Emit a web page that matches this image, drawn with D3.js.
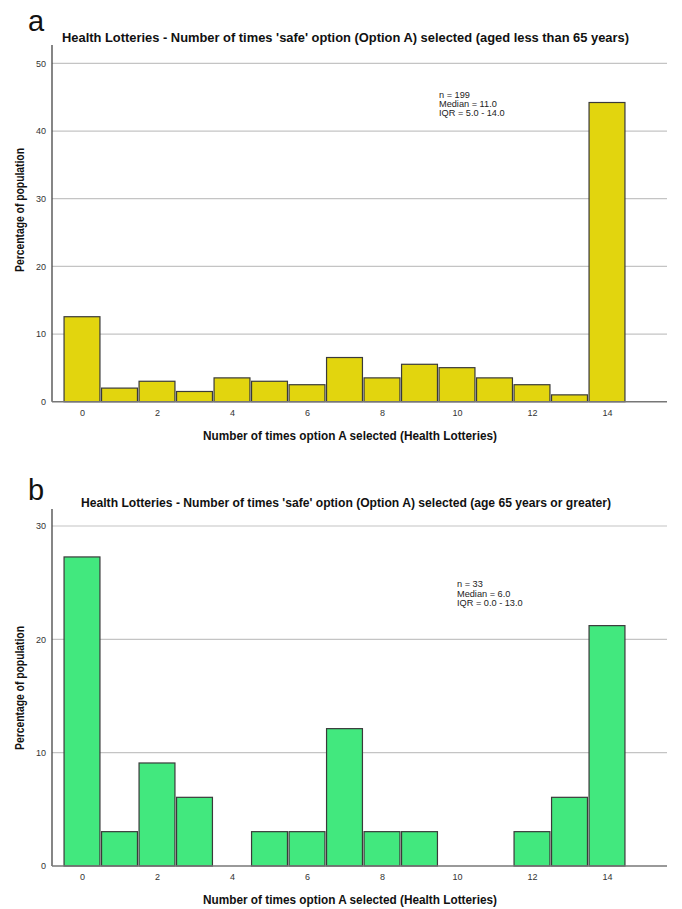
<!DOCTYPE html>
<html>
<head>
<meta charset="utf-8">
<script src="https://cdn.jsdelivr.net/npm/d3@7"></script>
<style>
  html, body { margin: 0; padding: 0; background: #fff; }
  svg { display: block; font-family: "Liberation Sans", Arial, sans-serif; }
</style>
</head>
<body>
<svg id="chart" width="682" height="909"></svg>
<script>
// Number of times option A was chosen (0..14)
const timesSelected = d3.range(0, 15);

// Percentage of respondents, aged less than 65 years (n = 199)
const pctUnder65 = [12.56, 2.01, 3.02, 1.51, 3.52, 3.02, 2.51, 6.53, 3.52, 5.53, 5.03, 3.52, 2.51, 1.01, 44.22];
// Percentage of respondents, aged 65 years or greater (n = 33)
const pct65Plus = [27.27, 3.03, 9.09, 6.06, 0, 3.03, 3.03, 12.12, 3.03, 3.03, 0, 0, 3.03, 6.06, 21.21];

const xTickValues = [0, 2, 4, 6, 8, 10, 12, 14];
const yTicksUnder65 = [0, 10, 20, 30, 40, 50];
const yTicks65Plus = [0, 10, 20, 30];

const statsUnder65 = ["n = 199", "Median = 11.0", "IQR = 5.0 - 14.0"];
const stats65Plus = ["n = 33", "Median = 6.0", "IQR = 0.0 - 13.0"];

const titleUnder65 = "Health Lotteries - Number of times 'safe' option (Option A) selected (aged less than 65 years)";
const title65Plus = "Health Lotteries - Number of times 'safe' option (Option A) selected (age 65 years or greater)";
const xTitle = "Number of times option A selected (Health Lotteries)";
const yTitle = "Percentage of population";

const svg = d3.select("#chart");

function histogram(cfg) {
  const g = svg.append("g");
  const x = d3.scaleLinear().domain([-0.8, 15.6]).range([52, 667]);
  const y = d3.scaleLinear().domain([0, cfg.yMax]).range([cfg.base, cfg.top]);

  // panel letter
  g.append("text")
    .attr("x", 28).attr("y", cfg.letterY)
    .attr("font-size", 29).attr("fill", "#111")
    .text(cfg.letter);

  // title
  g.append("text")
    .attr("x", cfg.titleX).attr("y", cfg.titleY)
    .attr("font-size", 12).attr("font-weight", "bold").attr("fill", "#111")
    .attr("textLength", cfg.titleLen).attr("lengthAdjust", "spacingAndGlyphs")
    .text(cfg.title);

  // gridlines
  g.append("g")
    .selectAll("line")
    .data(cfg.yTicks.filter(d => d > 0))
    .join("line")
    .attr("x1", x.range()[0]).attr("x2", x.range()[1])
    .attr("y1", d => y(d)).attr("y2", d => y(d))
    .attr("stroke", "#c4c4c4").attr("stroke-width", 1.2);

  // y axis
  const yAxis = d3.axisLeft(y).tickValues(cfg.yTicks).tickSize(0).tickPadding(6);
  const ya = g.append("g").attr("transform", `translate(${x.range()[0]},0)`).call(yAxis);
  ya.select(".domain").remove();
  ya.selectAll("text").attr("font-size", 9).attr("fill", "#333")
    .attr("font-family", "\"Liberation Sans\", Arial, sans-serif");
  g.append("line")
    .attr("x1", x.range()[0]).attr("x2", x.range()[0])
    .attr("y1", cfg.axisTop).attr("y2", cfg.base)
    .attr("stroke", "#444").attr("stroke-width", 1.3);

  // bars
  g.append("g")
    .selectAll("rect")
    .data(timesSelected.map((t, i) => ({ t, v: cfg.values[i] })).filter(d => d.v > 0))
    .join("rect")
    .attr("x", d => x(d.t - 0.5) + 0.8)
    .attr("width", d => x(d.t + 0.5) - x(d.t - 0.5) - 1.6)
    .attr("y", d => y(d.v))
    .attr("height", d => y(0) - y(d.v))
    .attr("fill", cfg.fill)
    .attr("stroke", "#3a3a3a").attr("stroke-width", 1.2);

  // x axis
  const xAxis = d3.axisBottom(x).tickValues(xTickValues).tickSize(0).tickPadding(8);
  const xa = g.append("g").attr("transform", `translate(0,${cfg.base})`).call(xAxis);
  xa.select(".domain").remove();
  xa.selectAll("text").attr("font-size", 9).attr("fill", "#333")
    .attr("font-family", "\"Liberation Sans\", Arial, sans-serif");
  g.append("line")
    .attr("x1", x.range()[0]).attr("x2", x.range()[1])
    .attr("y1", cfg.base).attr("y2", cfg.base)
    .attr("stroke", "#777").attr("stroke-width", 1.6);

  // axis titles
  g.append("text")
    .attr("x", 350).attr("y", cfg.base + 38)
    .attr("text-anchor", "middle")
    .attr("font-size", 13).attr("font-weight", "bold").attr("fill", "#111")
    .attr("textLength", 294).attr("lengthAdjust", "spacingAndGlyphs")
    .text(xTitle);
  g.append("text")
    .attr("transform", `translate(24,${cfg.yTitleY}) rotate(-90)`)
    .attr("text-anchor", "middle")
    .attr("font-size", 13).attr("font-weight", "bold").attr("fill", "#111")
    .attr("textLength", 124).attr("lengthAdjust", "spacingAndGlyphs")
    .text(yTitle);

  // summary statistics
  g.append("text")
    .attr("font-size", 9.2).attr("fill", "#222")
    .selectAll("tspan")
    .data(cfg.stats)
    .join("tspan")
    .attr("x", cfg.statsX)
    .attr("y", (d, i) => cfg.statsY + i * cfg.statsGap)
    .text(d => d);
}

histogram({
  letter: "a", letterY: 31,
  title: titleUnder65, titleX: 62, titleY: 42, titleLen: 567,
  values: pctUnder65, yMax: 50, yTicks: yTicksUnder65,
  base: 401.7, top: 63.4, axisTop: 45, yTitleY: 210,
  fill: "#e2d50e",
  stats: statsUnder65, statsX: 439, statsY: 98, statsGap: 9.2
});

histogram({
  letter: "b", letterY: 500,
  title: title65Plus, titleX: 81, titleY: 507, titleLen: 530,
  values: pct65Plus, yMax: 30, yTicks: yTicks65Plus,
  base: 866, top: 526, axisTop: 509, yTitleY: 688,
  fill: "#42e87e",
  stats: stats65Plus, statsX: 457, statsY: 587, statsGap: 9.6
});
</script>
</body>
</html>
